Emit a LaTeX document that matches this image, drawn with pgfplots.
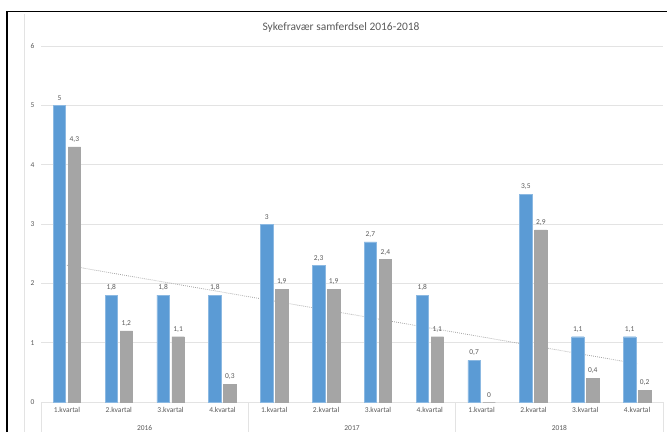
\documentclass[border=0pt]{standalone}
\usepackage{pgfplots}
\pgfplotsset{compat=1.18}
\usepackage{fontspec}
\setmainfont{Carlito}
\definecolor{xblue}{HTML}{5B9BD5}
\definecolor{xgray}{HTML}{A5A5A5}
\definecolor{txt}{HTML}{595959}
\definecolor{gridc}{HTML}{E3E3E3}
\begin{document}
\begin{tikzpicture}[x=1bp,y=1bp]
\path[use as bounding box] (0,0) rectangle (667,432);
\draw[black, line width=1.2bp] (7,0) -- (7,420.5) -- (667,420.5);
\draw[gridc, line width=0.8bp] (24,0) -- (24,418);
\node[txt, font=\fontsize{11.5}{13}\selectfont] at (341,405) {Sykefravær samferdsel 2016-2018};
\begin{axis}[
    at={(41bp,30bp)}, anchor=origin,
    scale only axis, width=622bp, height=356bp,
    xmin=0.5, xmax=12.5, ymin=0, ymax=6,
    axis line style={draw=none},
    ytick={0,1,2,3,4,5,6},
    xtick={1,...,12},
    xticklabels={1.kvartal,2.kvartal,3.kvartal,4.kvartal,1.kvartal,2.kvartal,3.kvartal,4.kvartal,1.kvartal,2.kvartal,3.kvartal,4.kvartal},
    ymajorgrids, xmajorgrids=false,
    major grid style={gridc, line width=0.8bp},
    major tick length=0pt,
    tick label style={txt, font=\fontsize{7.5}{8}\selectfont},
    /pgf/number format/assume math mode=true,
    yticklabel style={xshift=-3bp},
    xticklabel style={yshift=-2bp},
    ybar,
    bar width=12.5bp,
    nodes near coords,
    every node near coord/.append style={txt, font=\fontsize{7.5}{8}\selectfont, yshift=1bp},
    /pgf/number format/.cd, use comma, fixed, precision=1,
    /pgfplots/.cd,
    clip=false,
]
\addplot[sharp plot, xgray, dash pattern=on 0.8bp off 1.2bp, line width=0.8bp, nodes near coords={}] coordinates {(1,2.304) (12,0.646)};
\addplot[bar shift=-7.5bp, fill=xblue, draw=xblue!70!white, line width=0.4bp] coordinates {
    (1,5) (2,1.8) (3,1.8) (4,1.8) (5,3) (6,2.3) (7,2.7) (8,1.8) (9,0.7) (10,3.5) (11,1.1) (12,1.1)
};
\addplot[bar shift=7.5bp, fill=xgray, draw=xgray, line width=0.4bp] coordinates {
    (1,4.3) (2,1.2) (3,1.1) (4,0.3) (5,1.9) (6,1.9) (7,2.4) (8,1.1) (9,0) (10,2.9) (11,0.4) (12,0.2)
};
\draw[gridc, line width=0.8bp] (axis cs:0.5,0) -- ([yshift=-30bp]axis cs:0.5,0);
\draw[gridc, line width=0.8bp] (axis cs:4.5,0) -- ([yshift=-30bp]axis cs:4.5,0);
\draw[gridc, line width=0.8bp] (axis cs:8.5,0) -- ([yshift=-30bp]axis cs:8.5,0);
\draw[gridc, line width=0.8bp] (axis cs:12.5,0) -- ([yshift=-30bp]axis cs:12.5,0);
\node[txt, font=\fontsize{7.5}{8}\selectfont] at ([yshift=-26bp]axis cs:2.5,0) {2016};
\node[txt, font=\fontsize{7.5}{8}\selectfont] at ([yshift=-26bp]axis cs:6.5,0) {2017};
\node[txt, font=\fontsize{7.5}{8}\selectfont] at ([yshift=-26bp]axis cs:10.5,0) {2018};
\end{axis}
\end{tikzpicture}
\end{document}
